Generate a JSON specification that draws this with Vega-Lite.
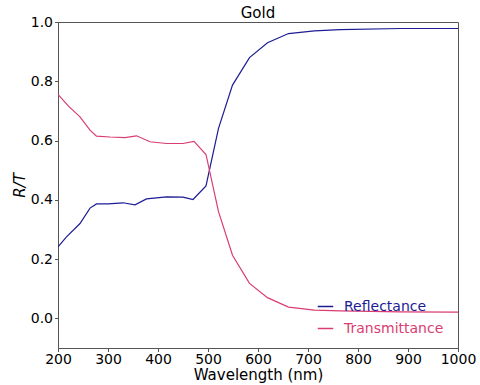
{
  "$schema": "https://vega.github.io/schema/vega-lite/v6.json",
  "width": 400,
  "height": 326,
  "autosize": {"type": "none"},
  "padding": {"left": 58, "top": 22, "right": 22, "bottom": 37},
  "title": {"text": "Gold", "fontSize": 15, "font": "DejaVu Sans", "fontWeight": "normal", "color": "#000", "offset": -6},
  "config": {
    "font": "DejaVu Sans",
    "view": {"stroke": "#555", "strokeWidth": 1},
    "axis": {"grid": false, "domainColor": "#555", "tickColor": "#555", "labelColor": "#000", "titleColor": "#000", "labelFontSize": 14, "titleFontSize": 15, "titleFontWeight": "normal", "tickSize": 3.5, "labelPadding": 2, "labelFlush": false, "labelOverlap": false}
  },
  "data": {"values": [
    {"wl": 200, "v": 0.241, "s": "Reflectance"},
    {"wl": 217, "v": 0.275, "s": "Reflectance"},
    {"wl": 244, "v": 0.320, "s": "Reflectance"},
    {"wl": 264, "v": 0.372, "s": "Reflectance"},
    {"wl": 277, "v": 0.386, "s": "Reflectance"},
    {"wl": 300, "v": 0.386, "s": "Reflectance"},
    {"wl": 330, "v": 0.390, "s": "Reflectance"},
    {"wl": 354, "v": 0.383, "s": "Reflectance"},
    {"wl": 377, "v": 0.403, "s": "Reflectance"},
    {"wl": 417, "v": 0.410, "s": "Reflectance"},
    {"wl": 450, "v": 0.409, "s": "Reflectance"},
    {"wl": 470, "v": 0.401, "s": "Reflectance"},
    {"wl": 496, "v": 0.447, "s": "Reflectance"},
    {"wl": 521, "v": 0.641, "s": "Reflectance"},
    {"wl": 549, "v": 0.787, "s": "Reflectance"},
    {"wl": 583, "v": 0.880, "s": "Reflectance"},
    {"wl": 619, "v": 0.930, "s": "Reflectance"},
    {"wl": 661, "v": 0.961, "s": "Reflectance"},
    {"wl": 713, "v": 0.970, "s": "Reflectance"},
    {"wl": 764, "v": 0.974, "s": "Reflectance"},
    {"wl": 884, "v": 0.978, "s": "Reflectance"},
    {"wl": 1000, "v": 0.978, "s": "Reflectance"},
    {"wl": 200, "v": 0.756, "s": "Transmittance"},
    {"wl": 221, "v": 0.716, "s": "Transmittance"},
    {"wl": 244, "v": 0.680, "s": "Transmittance"},
    {"wl": 264, "v": 0.635, "s": "Transmittance"},
    {"wl": 277, "v": 0.615, "s": "Transmittance"},
    {"wl": 304, "v": 0.612, "s": "Transmittance"},
    {"wl": 334, "v": 0.610, "s": "Transmittance"},
    {"wl": 357, "v": 0.616, "s": "Transmittance"},
    {"wl": 384, "v": 0.596, "s": "Transmittance"},
    {"wl": 417, "v": 0.590, "s": "Transmittance"},
    {"wl": 450, "v": 0.590, "s": "Transmittance"},
    {"wl": 472, "v": 0.597, "s": "Transmittance"},
    {"wl": 496, "v": 0.553, "s": "Transmittance"},
    {"wl": 521, "v": 0.360, "s": "Transmittance"},
    {"wl": 549, "v": 0.213, "s": "Transmittance"},
    {"wl": 583, "v": 0.118, "s": "Transmittance"},
    {"wl": 619, "v": 0.070, "s": "Transmittance"},
    {"wl": 661, "v": 0.038, "s": "Transmittance"},
    {"wl": 713, "v": 0.028, "s": "Transmittance"},
    {"wl": 764, "v": 0.025, "s": "Transmittance"},
    {"wl": 884, "v": 0.022, "s": "Transmittance"},
    {"wl": 1000, "v": 0.021, "s": "Transmittance"}
  ]},
  "mark": {"type": "line", "strokeWidth": 1.2, "clip": true},
  "encoding": {
    "x": {"field": "wl", "type": "quantitative", "title": "Wavelength (nm)",
      "scale": {"domain": [200, 1000], "nice": false, "zero": false},
      "axis": {"values": [200, 300, 400, 500, 600, 700, 800, 900, 1000], "format": "d", "labelPadding": 1, "titlePadding": 1}},
    "y": {"field": "v", "type": "quantitative", "title": "R/T",
      "scale": {"domain": [-0.1, 1.0], "nice": false, "zero": false},
      "axis": {"values": [0, 0.2, 0.4, 0.6, 0.8, 1.0], "format": ".1f", "titleFontStyle": "italic", "titlePadding": 3}},
    "color": {"field": "s", "type": "nominal",
      "scale": {"domain": ["Reflectance", "Transmittance"], "range": ["#1c1c94", "#d93d72"]},
      "legend": {"title": null, "orient": "none", "legendX": 259, "legendY": 276, "symbolType": "stroke", "symbolSize": 240, "symbolStrokeWidth": 1.5, "labelFontSize": 14, "rowPadding": 6, "labelOffset": 10,
        "encode": {"labels": {"update": {"fill": {"signal": "datum.label === 'Reflectance' ? '#1c1c94' : '#d93d72'"}}}}}
    }
  }
}
